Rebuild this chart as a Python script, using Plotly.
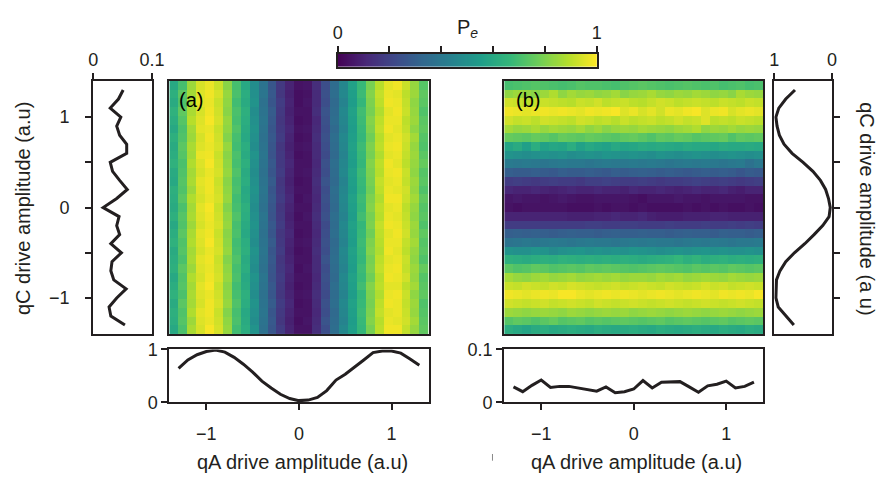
import numpy as np
import plotly.graph_objects as go

# ---------------- data ----------------
# sample positions of the profile curves (a.u)
q_line = [-1.3, -1.2, -1.1, -1.0, -0.9, -0.8, -0.7, -0.6, -0.5, -0.4, -0.3, -0.2, -0.1, 0.0,
          0.1, 0.2, 0.3, 0.4, 0.5, 0.6, 0.7, 0.8, 0.9, 1.0, 1.1, 1.2, 1.3]

# (a) spread of Pe along qC (left panel)
std_a = [0.054, 0.030, 0.027, 0.040, 0.056, 0.035, 0.030, 0.032, 0.048, 0.030, 0.045, 0.040, 0.044,
         0.017, 0.040, 0.058, 0.045, 0.033, 0.029, 0.057, 0.057, 0.045, 0.040, 0.047, 0.029, 0.043, 0.051]
# (a) mean Pe vs qA (bottom panel)
mean_a = [0.64, 0.80, 0.90, 0.96, 0.99, 0.95, 0.85, 0.72, 0.57, 0.40, 0.27, 0.15, 0.07, 0.03,
          0.04, 0.09, 0.22, 0.42, 0.53, 0.66, 0.80, 0.94, 0.97, 0.97, 0.93, 0.82, 0.70]
# (b) mean Pe vs qC (right panel)
mean_b = [0.66, 0.80, 0.93, 0.97, 0.97, 0.96, 0.90, 0.80, 0.65, 0.47, 0.31, 0.16, 0.05, 0.03,
          0.06, 0.11, 0.20, 0.33, 0.50, 0.69, 0.83, 0.91, 0.95, 0.97, 0.92, 0.80, 0.64]
# (b) spread of Pe along qA (bottom panel)
std_b = [0.029, 0.020, 0.032, 0.042, 0.028, 0.030, 0.030, 0.027, 0.025, 0.021, 0.029, 0.018, 0.020,
         0.025, 0.041, 0.027, 0.038, 0.038, 0.039, 0.029, 0.019, 0.031, 0.034, 0.040, 0.027, 0.030, 0.038]

# heatmap extent (a.u) and cell grids, rows listed from top (qC=+1.4) to bottom
extent = 1.4
map_a = [
    [60,70,85,94,97,92,82,70,60,49,38,27,17,10,5,6,13,24,35,46,57,67,79,89,96,98,92,84,73],
    [63,74,86,95,98,94,84,71,62,50,39,28,16,9,4,5,12,25,36,47,56,68,81,91,97,96,90,85,75],
    [61,72,88,96,97,92,83,69,61,51,37,27,18,10,4,6,12,24,34,45,55,66,80,90,98,97,91,83,74],
    [64,75,87,94,98,93,82,71,63,49,38,29,17,9,5,5,13,26,35,47,57,69,79,88,96,98,92,84,72],
    [62,73,89,95,99,94,84,70,62,50,39,28,16,10,4,5,11,25,36,46,56,68,81,90,97,97,90,85,74],
    [60,71,86,96,97,92,83,72,61,51,38,27,17,11,5,6,12,24,34,45,55,67,80,91,98,96,91,83,75],
    [63,72,85,94,98,93,81,70,60,50,37,28,18,10,4,5,13,25,36,47,56,66,78,89,96,97,93,86,73],
    [61,74,87,95,97,94,84,69,62,49,38,27,16,9,5,6,12,24,35,46,57,68,80,90,97,98,92,84,72],
    [62,73,86,97,98,92,82,71,61,51,39,26,17,10,4,5,12,23,34,45,56,67,79,88,96,97,91,85,74],
    [64,71,88,95,99,93,83,70,63,50,38,28,17,11,5,5,11,25,36,46,55,66,81,90,98,96,90,84,76],
    [61,72,86,94,97,94,84,72,61,49,37,27,18,10,5,6,12,24,35,47,57,68,80,89,97,98,92,83,73],
    [60,73,87,96,98,92,82,70,62,50,38,29,16,9,4,5,13,26,34,45,56,67,79,91,96,97,91,85,74],
    [63,72,85,95,98,93,83,71,60,51,39,27,17,10,5,5,12,24,36,46,55,66,78,90,97,96,93,84,72],
    [62,74,88,94,97,94,84,69,61,50,38,28,18,11,4,6,11,25,35,47,57,68,80,88,98,98,92,86,75],
    [61,71,86,96,99,92,81,70,63,49,37,27,16,10,5,5,12,24,34,46,56,67,81,90,96,97,90,84,73],
    [63,73,87,95,98,93,83,72,62,50,39,26,17,9,4,6,13,25,36,45,55,69,79,89,97,96,91,83,74],
    [60,72,85,94,97,94,84,70,61,51,38,28,18,10,5,5,12,23,35,47,57,66,80,91,98,97,92,85,72],
    [62,74,87,96,98,92,82,71,60,50,37,27,16,11,4,5,11,24,36,46,56,67,78,90,96,98,93,84,75],
    [64,72,88,95,99,93,83,69,62,49,38,29,17,10,5,6,12,25,34,45,55,68,80,89,97,97,91,86,73],
    [61,73,86,94,97,94,84,70,63,51,39,27,18,9,4,5,13,24,35,47,57,67,81,88,98,96,90,84,74],
    [62,71,87,96,98,92,81,72,61,50,38,28,16,10,5,5,12,26,36,46,56,66,79,90,96,97,92,83,72],
    [63,74,85,95,97,93,83,70,62,49,37,27,17,11,4,6,12,24,35,45,55,68,80,91,97,98,91,85,76],
    [60,72,88,94,98,94,84,71,60,51,39,26,18,10,5,5,11,25,34,47,57,67,78,89,98,97,93,84,73],
    [62,73,86,96,99,92,82,69,61,50,38,28,17,9,4,5,12,24,36,46,56,69,81,90,96,96,90,86,74],
    [64,71,87,95,97,93,83,70,63,49,37,27,16,10,5,6,13,23,35,45,55,66,80,88,97,98,92,83,75],
    [61,74,86,94,98,94,84,72,62,51,38,29,18,11,4,5,12,25,36,47,57,67,79,90,98,97,91,85,72],
    [63,72,88,96,98,92,81,70,60,50,39,27,17,10,5,5,11,24,34,46,56,68,80,91,96,97,92,84,73],
    [62,73,85,95,97,93,83,71,61,49,38,28,16,9,4,6,12,26,35,45,55,67,81,89,97,96,93,86,74],
    [60,71,87,94,99,94,84,69,62,51,37,27,18,10,5,5,13,24,36,47,56,66,79,90,98,98,91,84,75],
]
map_b = [
    [70,71,72,73,72,71,70,71,73,72,72,71,70,72,73,74,73,72,71,72,73,72,71,72,70,71,72,70,71],
    [83,85,84,82,85,88,83,86,84,85,83,84,86,82,84,85,87,84,83,85,84,86,85,83,84,82,87,85,84],
    [93,92,90,91,92,91,90,89,92,91,93,90,91,92,90,89,91,93,92,90,91,92,91,90,92,91,90,92,91],
    [98,97,96,97,98,97,98,97,96,98,97,98,99,95,97,94,96,93,97,96,98,99,95,97,98,94,96,97,96],
    [93,91,92,90,93,92,91,90,93,92,90,91,89,92,90,91,92,90,91,93,91,92,95,90,91,90,92,91,90],
    [86,84,85,87,84,86,85,84,86,83,85,82,84,85,84,86,85,84,83,85,86,88,83,85,84,86,84,85,84],
    [76,75,74,76,75,73,76,75,74,76,75,74,73,75,76,74,72,75,74,76,75,73,74,75,76,72,75,74,75],
    [58,61,56,62,57,59,58,62,57,60,58,57,60,58,59,61,60,61,60,59,61,60,60,59,61,60,60,61,60],
    [51,50,49,50,51,50,51,49,50,51,50,52,51,50,51,50,49,51,50,49,50,51,50,49,50,51,50,49,50],
    [41,40,41,40,39,40,41,40,40,39,40,41,40,40,41,40,41,40,39,40,41,40,41,40,39,40,41,37,40],
    [30,29,29,30,29,28,30,29,29,30,29,28,30,29,30,31,30,29,30,29,28,29,30,29,30,29,27,29,28],
    [18,19,18,17,18,19,18,18,17,19,19,20,19,18,18,19,18,17,18,18,19,20,19,18,19,18,17,18,19],
    [11,10,10,11,10,9,10,11,10,10,11,10,10,9,11,10,10,11,10,9,10,11,10,10,11,9,8,10,10],
    [6,7,6,6,5,6,7,6,5,5,6,6,6,6,5,4,6,6,6,7,6,6,5,6,6,6,6,5,5],
    [5,4,5,5,5,5,5,4,4,4,5,4,5,5,4,5,4,4,4,4,5,4,5,4,5,4,4,5,4],
    [10,10,10,10,10,10,10,9,9,9,10,10,11,10,10,11,9,8,8,8,9,9,9,10,10,9,9,9,9],
    [18,18,18,18,18,18,18,18,18,19,19,18,18,19,19,18,18,18,19,18,18,18,19,18,18,19,18,19,18],
    [30,31,30,31,30,29,30,31,30,30,29,30,31,30,30,31,30,30,29,30,31,30,30,29,31,30,30,29,30],
    [38,39,40,39,40,41,40,39,40,41,40,40,39,40,41,40,41,40,40,39,40,41,40,41,40,39,40,40,41],
    [51,50,50,52,51,48,50,51,52,50,51,50,51,50,52,51,50,49,50,51,50,51,52,50,51,50,50,51,50],
    [63,62,61,62,63,62,64,63,62,63,62,63,62,63,62,61,62,63,64,66,63,65,62,63,64,62,63,62,63],
    [74,72,73,75,74,72,73,74,73,75,74,75,74,73,72,73,74,75,74,73,72,74,73,74,73,75,74,73,74],
    [86,84,83,85,86,84,85,86,84,85,86,85,86,84,85,85,84,86,85,86,84,85,86,85,84,86,85,84,85],
    [92,91,93,92,91,93,92,94,93,92,91,92,93,91,92,93,92,91,93,92,91,92,94,92,93,91,92,93,92],
    [98,97,96,97,98,97,99,99,97,96,97,98,97,98,97,96,97,98,97,96,97,98,97,96,98,97,98,97,99],
    [93,92,91,92,93,91,92,93,92,91,93,92,91,92,93,92,91,92,93,92,91,92,93,92,91,92,93,92,91],
    [85,84,83,84,85,84,83,85,84,83,84,85,84,85,83,84,85,84,83,84,85,84,83,84,85,84,83,84,85],
    [73,75,74,72,74,76,73,74,75,73,74,73,74,75,74,73,74,75,73,74,75,74,73,74,75,73,74,75,74],
    [62,60,58,61,62,60,61,62,61,60,62,61,60,61,62,61,60,62,61,60,61,62,61,60,62,61,60,62,61],
]
cbar_major = [0, 1]
cbar_minor = [0.2, 0.4, 0.6, 0.8]
qc_major = [-1, 0, 1]
qc_minor = [-0.5, 0.5]

# ---------------- figure ----------------
W, H = 893, 487
def px(x):
    return x / W
def py(y):
    return 1 - y / H

INK = "#231f20"
FONT = "Liberation Sans, Arial, sans-serif"

za = np.array(map_a, dtype=float)[::-1] / 100.0
zb = np.array(map_b, dtype=float)[::-1] / 100.0
ncol = za.shape[1]
nrow = za.shape[0]
xedges = np.linspace(-extent, extent, ncol + 1)
yedges = np.linspace(-extent, extent, nrow + 1)

fig = go.Figure()
fig.add_trace(go.Heatmap(z=za, x=xedges, y=yedges, colorscale="Viridis", zmin=0, zmax=1,
                         showscale=False, xaxis="x", yaxis="y", hoverinfo="skip"))
fig.add_trace(go.Heatmap(z=zb, x=xedges, y=yedges, colorscale="Viridis", zmin=0, zmax=1,
                         showscale=False, xaxis="x4", yaxis="y4", hoverinfo="skip"))
# colour bar as its own small axis
grad = np.linspace(0, 1, 256)
fig.add_trace(go.Heatmap(z=[grad], x=grad, y=[0.5], colorscale="Viridis", zmin=0, zmax=1,
                         showscale=False, xaxis="x7", yaxis="y7", hoverinfo="skip"))

line = dict(color=INK, width=3)
fig.add_trace(go.Scatter(x=std_a, y=q_line, mode="lines", line=line, xaxis="x2", yaxis="y2"))
fig.add_trace(go.Scatter(x=q_line, y=mean_a, mode="lines", line=line, xaxis="x3", yaxis="y3"))
fig.add_trace(go.Scatter(x=mean_b, y=q_line, mode="lines", line=line, xaxis="x5", yaxis="y5"))
fig.add_trace(go.Scatter(x=q_line, y=std_b, mode="lines", line=line, xaxis="x6", yaxis="y6"))

tickfont = dict(family=FONT, size=18, color=INK)
base = dict(showline=True, linecolor=INK, linewidth=2, mirror=True, showgrid=False,
            zeroline=False, ticks="outside", tickcolor=INK, tickwidth=1.5, ticklen=6,
            tickfont=tickfont)
noticks = dict(base, ticks="", showticklabels=False)
minor_style = dict(ticks="outside", ticklen=6, tickwidth=1.5, tickcolor=INK, showgrid=False)

HA = [px(167.7), px(432.3)]
HB = [px(509.5), px(773.8)]
HY = [py(338), py(74)]
BY = [py(409), py(354)]

layout = dict(
    width=W, height=H, autosize=False, margin=dict(l=0, r=0, t=0, b=0),
    paper_bgcolor="white", plot_bgcolor="white", showlegend=False,
    font=dict(family=FONT, color=INK),
    xaxis=dict(noticks, domain=HA, range=[-extent, extent], anchor="y"),
    yaxis=dict(noticks, domain=HY, range=[-extent, extent], anchor="x"),
    xaxis2=dict(base, domain=[px(90), px(150)], range=[0, 0.1], side="top", anchor="y2",
                tickvals=[0, 0.1], ticktext=["0", "0.1"]),
    yaxis2=dict(base, domain=HY, range=[-extent, extent], anchor="x2",
                tickvals=qc_major, ticktext=["\u22121", "0", "1"], ticklabelstandoff=12,
                minor=dict(minor_style, tickvals=qc_minor)),
    xaxis3=dict(base, domain=HA, range=[-extent, extent], anchor="y3",
                tickvals=[-1, 0, 1], ticktext=["\u22121", "0", "1"], ticklabelstandoff=8),
    yaxis3=dict(base, domain=BY, range=[0, 1], anchor="x3", tickvals=[0, 1], ticktext=["0", "1"]),
    xaxis4=dict(noticks, domain=HB, range=[-extent, extent], anchor="y4"),
    yaxis4=dict(noticks, domain=HY, range=[-extent, extent], anchor="x4"),
    xaxis5=dict(base, domain=[px(785), px(844)], range=[1, 0], side="top", anchor="y5",
                tickvals=[1, 0], ticktext=["1", "0"]),
    yaxis5=dict(base, domain=HY, range=[-extent, extent], anchor="x5", side="right",
                tickvals=qc_major + qc_minor, showticklabels=False),
    xaxis6=dict(base, domain=HB, range=[-extent, extent], anchor="y6",
                tickvals=[-1, 0, 1], ticktext=["\u22121", "0", "1"], ticklabelstandoff=8),
    yaxis6=dict(base, domain=BY, range=[0, 0.1], anchor="x6", tickvals=[0, 0.1],
                ticktext=["0", "0.1"]),
    xaxis7=dict(base, domain=[px(339.5), px(604)], range=[0, 1], side="top", anchor="y7",
                tickvals=cbar_major, ticktext=["0", "1"], linewidth=1.5,
                minor=dict(minor_style, tickvals=cbar_minor)),
    yaxis7=dict(noticks, domain=[py(59.5), py(45.5)], range=[0, 1], anchor="x7", linewidth=1.5),
)
fig.update_layout(**layout)

title_font = dict(family=FONT, size=20, color=INK)
ann = [
    dict(text="(a)", x=px(176), y=py(94), xanchor="left", yanchor="middle",
         font=dict(family=FONT, size=20, color="black")),
    dict(text="(b)", x=px(519), y=py(94), xanchor="left", yanchor="middle",
         font=dict(family=FONT, size=20, color="black")),
    dict(text="qA drive amplitude (a.u)", x=px(304), y=py(471), xanchor="center", yanchor="middle",
         font=title_font),
    dict(text="qA drive amplitude (a.u)", x=px(645), y=py(471), xanchor="center", yanchor="middle",
         font=title_font),
    dict(text="qC drive amplitude (a.u)", x=px(19), y=py(207), xanchor="center", yanchor="middle",
         textangle=-90, font=title_font),
    dict(text="qC drive amplitude (a u)", x=px(879), y=py(207), xanchor="center", yanchor="middle",
         textangle=90, font=title_font),
    dict(text="P<sub><i>e</i></sub>", x=px(472), y=py(19), xanchor="center", yanchor="middle",
         font=dict(family=FONT, size=20, color=INK)),
]
for a in ann:
    a.update(xref="paper", yref="paper", showarrow=False)
fig.update_layout(annotations=ann)
fig.add_shape(type="line", xref="paper", yref="paper", x0=px(497.5), x1=px(497.5),
              y0=py(463), y1=py(470), line=dict(color="#888", width=1))

fig.write_html("out.html", config={"responsive": False},
               post_script="document.body.style.margin='0';document.body.style.overflow='hidden';")
